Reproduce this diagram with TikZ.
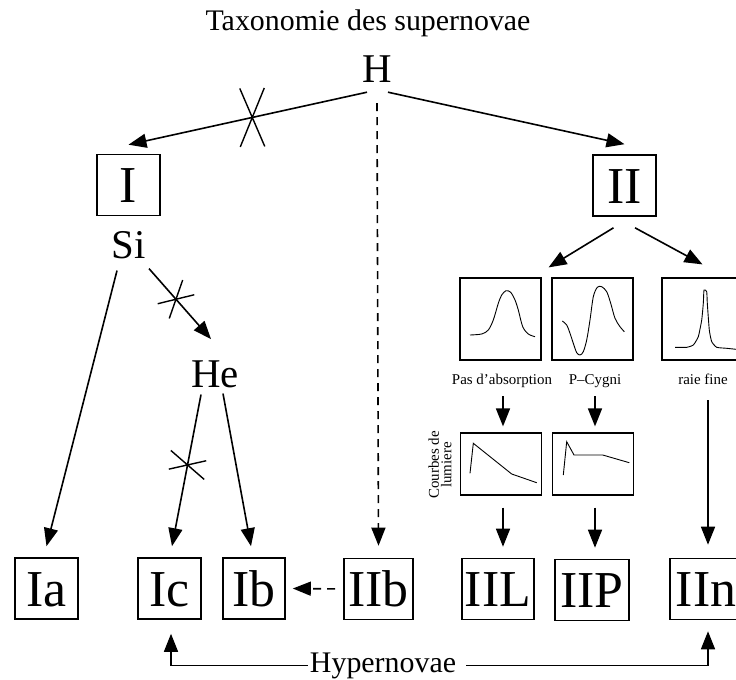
\documentclass[tikz,border=0pt]{standalone}
\usepackage{fontspec}
\setmainfont{Liberation Serif}
\usetikzlibrary{arrows.meta,calc}
\begin{document}
\begin{tikzpicture}[x=1bp,y=-1bp,
  arr/.style={line width=1.6bp, -{Triangle[length=18bp,width=14bp]}},
  box/.style={draw, line width=1.6bp, inner sep=0pt, minimum height=61bp, minimum width=63bp,
    font=\fontsize{52}{52}\selectfont, text height=35bp, text depth=0bp},
  elem/.style={inner sep=0pt, font=\fontsize{41}{41}\selectfont, anchor=base},
  sbox/.style={draw, line width=1.2bp, inner sep=0pt, minimum width=81bp},
  lbl/.style={inner sep=0pt, font=\fontsize{15}{15}\selectfont, anchor=base},
  curve/.style={line width=0.9bp},
  xmark/.style={line width=1.4bp},
  dsh/.style={dash pattern=on 8bp off 6bp}]

\useasboundingbox (0,0) rectangle (736,680);
\clip (0,0) rectangle (736,680);

% texts
\node[anchor=base, inner sep=0pt, font=\fontsize{30}{30}\selectfont] (title) at (368,31) {Taxonomie des supernovae};
\node[elem] (H) at (377,83) {H};
\node[elem] (Si) at (129,258) {Si};
\node[elem] (He) at (215,387) {He};

% boxes
\node[box] (I) at (128.5,185) {I};
\node[box] (II) at (624.5,185.5) {II};
\node[box] (Ia) at (46.5,588.5) {Ia};
\node[box] (Ic) at (169.5,588.5) {Ic};
\node[box, minimum width=62bp] (Ib) at (254,588.5) {Ib};
\node[box, minimum width=69bp] (IIb) at (378.5,589) {IIb};
\node[box, minimum width=72bp] (IIL) at (498,589) {IIL};
\node[box, minimum width=74bp] (IIP) at (592,590) {IIP};
\node[box, minimum width=72bp] (IIn) at (706,589) {IIn};

% spectrum boxes
\node[sbox, minimum height=82bp] (s1) at (500.5,319) {};
\node[sbox, minimum height=82bp] (s2) at (592.5,319) {};
\node[sbox, minimum height=82bp] (s3) at (702.5,319) {};
\node[lbl] (l1) at (502,384) {Pas d’absorption};
\node[lbl] (l2) at (595,384) {P–Cygni};
\node[lbl] (l3) at (703,384) {raie fine};
\node[sbox, minimum height=62bp] (c1) at (501,464) {};
\node[sbox, minimum height=62bp] (c2) at (593,464) {};
\node[rotate=90, align=center, inner sep=0pt, font=\fontsize{15}{12.5}\selectfont] (cdl) at (440,465) {Courbes de\\lumiere};

\node[anchor=base, inner sep=2bp, font=\fontsize{30}{30}\selectfont] (hyp) at (383,672) {Hypernovae};

% curves
\draw[curve] plot[smooth, tension=0.5] coordinates {(470,335) (481.7,334) (488.3,330) (493.3,320) (498.3,303.3) (501.7,295) (506,290.7) (510.7,292.3) (515,300) (518.3,310) (522.7,326.7) (528.3,334) (535,336.7)};
\draw[curve] plot[smooth, tension=0.5] coordinates {(562.3,321) (566.7,325) (570,333.3) (573.3,343.3) (576.7,352.7) (580,355) (583.3,351.7) (586.7,340) (590,320) (593.3,296.7) (597.3,287.3) (601.7,286.7) (606.7,291.7) (610.7,303.3) (615,318.3) (620,326.7) (624.3,331.7)};
\draw[curve] plot[smooth, tension=0.3] coordinates {(675,347.3) (686.7,347.3) (693.3,345) (698.3,336.7) (701.7,320) (703.3,303.3) (704,290) (706.7,291.7) (707.3,303.3) (709.3,330) (711.7,341.7) (716.7,347.3) (726.7,348.3) (736,349.3)};
\draw[curve] (470,473.3) -- (473.3,443.3) -- (511.7,474) -- (536.7,482.7);
\draw[curve] (563.3,475) -- (566.7,441.7) -- (574,455) -- (602.7,455) -- (629.3,462.7);

% connectors
\draw[arr] ([shift={(-10,9)}]H.south) -- coordinate[pos=0.481] (x1) ([shift={(0,-9)}]I.north);
\draw[xmark] ($(x1)+(-12.5,-29)$) -- ($(x1)+(12.5,29)$) ($(x1)+(12,-29.5)$) -- ($(x1)+(-12,29.5)$);
\draw[arr] ([shift={(11,9)}]H.south) -- ([shift={(0,-10)}]II.north);
\draw[arr, dsh] ([shift={(0,20)}]H.south) -- ([shift={(0,-12)}]IIb.north);

\draw[arr] ([shift={(-12,12)}]Si.south) -- ([shift={(0,-11)}]Ia.north);
\draw[arr] ([shift={(20,10)}]Si.south) -- coordinate[pos=0.435] (x2) ([shift={(-4,-21)}]He.north);
\draw[xmark] ($(x2)+(-18.3,4.5)$) -- ($(x2)+(18.3,-4.5)$) ($(x2)+(-6.7,19.2)$) -- ($(x2)+(6.7,-19.2)$);
\draw[arr] ([shift={(-14,7)}]He.south) -- coordinate[pos=0.464] (x3) ([shift={(2.5,-11)}]Ic.north);
\draw[xmark] ($(x3)+(-18.7,4.2)$) -- ($(x3)+(18.7,-4.2)$) ($(x3)+(-16.7,-14.5)$) -- ($(x3)+(16.7,14.5)$);
\draw[arr] ([shift={(8,6)}]He.south) -- ([shift={(-3,-11)}]Ib.north);

\draw[arr, dsh, shorten <=8bp] (IIb.west) -- ([shift={(7,0)}]Ib.east);

\draw[arr] ([shift={(-11,11)}]II.south) -- ([shift={(7,-10)}]s1.north east);
\draw[arr] ([shift={(10.5,11)}]II.south) -- ([shift={(0,-13)}]s3.north);

\draw[arr] ([shift={(1,9)}]l1.south) -- ([shift={(1,-6)}]l1.south |- c1.north);
\draw[arr] ([shift={(0,9)}]l2.south) -- ([shift={(0,-6)}]l2.south |- c2.north);
\draw[arr] ([shift={(2,12)}]c1.south) -- ([shift={(2,-11)}]c1.south |- IIL.north);
\draw[arr] ([shift={(2,12)}]c2.south) -- ([shift={(2,-11)}]c2.south |- IIP.north);
\draw[arr] ([shift={(2,16)}]IIn.north |- l3.south) -- ([shift={(2,-13)}]IIn.north);

\draw[arr, shorten >=14bp] (hyp.west) -| ([shift={(1.5,0)}]Ic.south);
\draw[arr, shorten >=11bp, shorten <=8bp] ([shift={(0,0)}]hyp.east) -| ([shift={(2,0)}]IIn.south);
\end{tikzpicture}
\end{document}
